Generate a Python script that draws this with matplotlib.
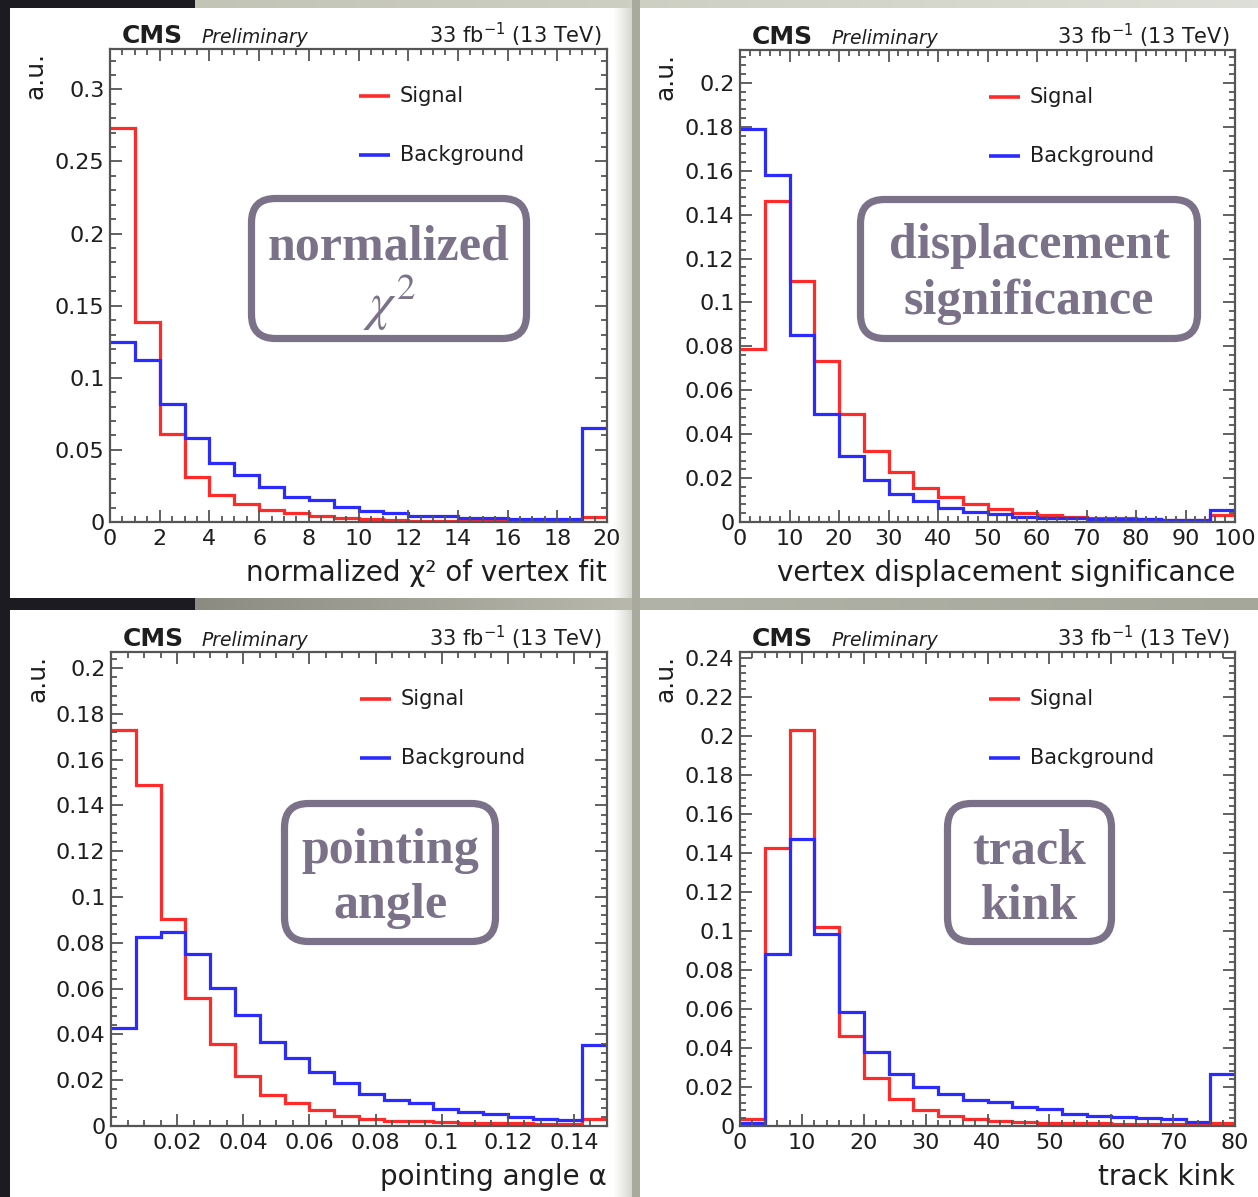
import numpy as np
import matplotlib
matplotlib.use("Agg")
import matplotlib.pyplot as plt
from matplotlib import transforms as mtransforms
from matplotlib.patches import Rectangle, FancyBboxPatch
from matplotlib.lines import Line2D
from matplotlib.ticker import MultipleLocator, AutoMinorLocator, FuncFormatter
from matplotlib.colors import LinearSegmentedColormap

# ---------------- normalized histograms (a.u.), 20 bins each ----------------
chi2_range = (0.0, 20.0)
chi2_signal = [0.273, 0.139, 0.061, 0.031, 0.0186, 0.0124, 0.0083, 0.0060, 0.0041, 0.0025,
               0.0018, 0.0014, 0.0010, 0.0008, 0.0007, 0.0006, 0.0005, 0.0005, 0.0004, 0.0035]
chi2_background = [0.125, 0.1124, 0.0816, 0.058, 0.041, 0.0324, 0.024, 0.0172, 0.015, 0.0103,
                   0.0076, 0.0060, 0.0041, 0.0041, 0.0028, 0.0028, 0.0019, 0.0019, 0.0019, 0.0655]

disp_range = (0.0, 100.0)
disp_signal = [0.079, 0.146, 0.110, 0.0735, 0.0493, 0.0323, 0.0227, 0.0153, 0.0115, 0.0082,
               0.0058, 0.0043, 0.0030, 0.0024, 0.0019, 0.0016, 0.0013, 0.0010, 0.0008, 0.0030]
disp_background = [0.179, 0.158, 0.0853, 0.049, 0.030, 0.019, 0.0129, 0.0095, 0.0065, 0.0047,
                   0.0035, 0.0023, 0.0020, 0.0018, 0.0015, 0.0013, 0.0012, 0.0010, 0.0010, 0.0053]

angle_range = (0.0, 0.15)
angle_signal = [0.173, 0.149, 0.0903, 0.0558, 0.0357, 0.022, 0.0135, 0.0099, 0.0070, 0.0045,
                0.0030, 0.0023, 0.0020, 0.0018, 0.0015, 0.0013, 0.0012, 0.0010, 0.0010, 0.0032]
angle_background = [0.0429, 0.0824, 0.0849, 0.0751, 0.0601, 0.0485, 0.0368, 0.0298, 0.0237, 0.0186,
                    0.0140, 0.0114, 0.0099, 0.0074, 0.0063, 0.0051, 0.0041, 0.0032, 0.0026, 0.0354]

kink_range = (0.0, 80.0)
kink_signal = [0.0034, 0.1424, 0.203, 0.102, 0.0463, 0.0245, 0.0138, 0.0082, 0.0051, 0.0034,
               0.0026, 0.0020, 0.0016, 0.0014, 0.0013, 0.0012, 0.0011, 0.0010, 0.0010, 0.0014]
kink_background = [0.0015, 0.0882, 0.147, 0.0985, 0.0583, 0.0381, 0.0267, 0.0202, 0.0162, 0.0133,
                   0.0121, 0.0099, 0.0085, 0.0062, 0.0053, 0.0048, 0.0040, 0.0034, 0.0022, 0.0267]

series_labels = ["Signal", "Background"]
x_titles = ["normalized \u03c7\u00b2 of vertex fit", "vertex displacement significance",
            "pointing angle \u03b1", "track kink"]
box_titles = [["normalized", r"$\chi^2$"], ["displacement", "significance"],
              ["pointing", "angle"], ["track", "kink"]]
y_title = "a.u."
experiment = "CMS"
status = "Preliminary"
lumi_text = r"33 fb$^{-1}$ (13 TeV)"

# ---------------- canvas ----------------
W, H, DPI = 1258, 1197, 100
fig = plt.figure(figsize=(W / DPI, H / DPI), dpi=DPI)
fig.patch.set_facecolor("#a6a79c")
# pixel coordinates, origin at the top-left corner
PX = mtransforms.Affine2D().scale(1 / DPI, -1 / DPI).translate(0, H / DPI) + fig.dpi_scale_trans

RED = "#ff2b2b"
BLUE = "#2b2bff"
BOXC = "#7b7189"
SANS = "DejaVu Sans"


def frac_rect(x0, y0, x1, y1):
    return [x0 / W, 1 - y1 / H, (x1 - x0) / W, (y1 - y0) / H]


def rect(x0, y0, x1, y1, color, z=-10):
    fig.add_artist(Rectangle((x0, y0), x1 - x0, y1 - y0, transform=PX,
                             facecolor=color, edgecolor="none", zorder=z))


def gradient(x0, y0, x1, y1, c0, c1, z=-20):
    gax = fig.add_axes(frac_rect(x0, y0, x1, y1), zorder=z)
    gax.set_axis_off()
    cmap = LinearSegmentedColormap.from_list("ramp", [c0, c1])
    gax.imshow(np.linspace(0, 1, 256)[None, :], cmap=cmap, aspect="auto",
               interpolation="bilinear", extent=(0, 1, 0, 1))
    gax.set_xlim(0, 1)
    gax.set_ylim(0, 1)


# backdrop
rect(0, 0, 10, H, "#1d1b22")
rect(0, 0, 195, 8, "#1d1b22")
rect(0, 598, 195, 610, "#1d1b22")
gradient(195, 0, W, 8, "#c2c4b6", "#dedfd6")
gradient(195, 598, 632, 610, "#8b8b81", "#b8b8ad")
gradient(640, 598, W, 610, "#b2b3a8", "#a6a79b")
rect(632, 0, 640, H, "#a9aa9e", z=-11)

# white sheets
for (x0, y0, x1, y1) in [(10, 8, 632, 598), (640, 8, W, 598),
                         (10, 610, 632, H), (640, 610, W, H)]:
    rect(x0, y0, x1, y1, "white")
gradient(614, 8, 632, 598, "#ffffff", "#d6d6d0", z=-9)
gradient(614, 610, 632, H, "#ffffff", "#d6d6d0", z=-9)


def fmt(v, pos):
    return "%g" % round(v, 6)


panels = [
    dict(area=(110, 49, 607, 522), rng=chi2_range, sig=chi2_signal, bkg=chi2_background,
         ymax=0.328, xmaj=2, xmin=4, ymaj=0.05, ymin=5,
         box=(248, 195, 530, 342), cx=389, lines=[259, 303]),
    dict(area=(740, 50, 1235, 522), rng=disp_range, sig=disp_signal, bkg=disp_background,
         ymax=0.215, xmaj=10, xmin=5, ymaj=0.02, ymin=5,
         box=(857, 196, 1201, 342), cx=1029, lines=[258, 314]),
    dict(area=(111, 652, 607, 1126), rng=angle_range, sig=angle_signal, bkg=angle_background,
         ymax=0.207, xmaj=0.02, xmin=4, ymaj=0.02, ymin=5,
         box=(281, 800, 499, 945), cx=390, lines=[863, 918]),
    dict(area=(740, 652, 1235, 1126), rng=kink_range, sig=kink_signal, bkg=kink_background,
         ymax=0.243, xmaj=10, xmin=5, ymaj=0.02, ymin=5,
         box=(944, 800, 1115, 945), cx=1029, lines=[863, 919]),
]

for i, p in enumerate(panels):
    x0, y0, x1, y1 = p["area"]
    ax = fig.add_axes(frac_rect(x0, y0, x1, y1))
    ax.set_facecolor("white")
    edges = np.linspace(p["rng"][0], p["rng"][1], len(p["sig"]) + 1)
    ax.stairs(p["sig"], edges, baseline=None, color=RED, lw=2.3)
    ax.stairs(p["bkg"], edges, baseline=None, color=BLUE, lw=2.3)
    ax.set_xlim(*p["rng"])
    ax.set_ylim(0, p["ymax"])

    ax.xaxis.set_major_locator(MultipleLocator(p["xmaj"]))
    ax.xaxis.set_minor_locator(AutoMinorLocator(p["xmin"]))
    ax.yaxis.set_major_locator(MultipleLocator(p["ymaj"]))
    ax.yaxis.set_minor_locator(AutoMinorLocator(p["ymin"]))
    ax.xaxis.set_major_formatter(FuncFormatter(fmt))
    ax.yaxis.set_major_formatter(FuncFormatter(fmt))
    ax.tick_params(which="both", direction="in", top=True, right=True,
                   color="#555555", width=1.3, labelsize=16, labelcolor="#1e1e1e")
    ax.tick_params(which="major", length=8.5)
    ax.tick_params(which="minor", length=4)
    ax.tick_params(axis="y", pad=4)
    ax.tick_params(axis="x", pad=5)
    for lab in ax.get_xticklabels() + ax.get_yticklabels():
        lab.set_family(SANS)
    for s in ax.spines.values():
        s.set_color("#555555")
        s.set_linewidth(1.6)

    # header
    fig.text(x0 + 12, y0 - 6, experiment, transform=PX, fontsize=18, fontweight="bold",
             family=SANS, color="#1e1e1e", va="baseline", ha="left")
    fig.text(x0 + 91, y0 - 6, status, transform=PX, fontsize=13.5, style="italic",
             family=SANS, color="#1e1e1e", va="baseline", ha="left")
    fig.text(x1 - 6, y0 - 6, lumi_text, transform=PX, fontsize=15,
             family=SANS, color="#1e1e1e", va="baseline", ha="right")

    # axis titles
    fig.text(x0 - 74, y0 + 3, y_title, transform=PX, fontsize=18, rotation=90,
             family=SANS, color="#1e1e1e", va="top", ha="center")
    fig.text(x1, y1 + 59, x_titles[i], transform=PX, fontsize=20,
             family=SANS, color="#1e1e1e", va="baseline", ha="right")

    # legend
    for k, (lab, col) in enumerate(zip(series_labels, [RED, BLUE])):
        ly = y0 + 47 + 59 * k
        fig.add_artist(Line2D([x0 + 249, x0 + 280], [ly, ly], transform=PX,
                              color=col, lw=2.6, solid_capstyle="butt"))
        fig.text(x0 + 290, ly, lab, transform=PX, fontsize=15, family=SANS,
                 color="#1e1e1e", va="center", ha="left")

    # variable tag
    bx0, by0, bx1, by1 = p["box"]
    fig.add_artist(FancyBboxPatch((bx0 + 3.5, by0 + 3.5), bx1 - bx0 - 7, by1 - by0 - 7,
                                  boxstyle="round,pad=0,rounding_size=24", transform=PX,
                                  facecolor="white", edgecolor=BOXC, lw=5.2, zorder=3))
    for line, yb in zip(box_titles[i], p["lines"]):
        if line.startswith("$"):
            fig.text(p["cx"], yb, line, transform=PX, fontsize=38, color=BOXC,
                     math_fontfamily="stix", va="center", ha="center", zorder=4)
        else:
            fig.text(p["cx"], yb, line, transform=PX, fontsize=36, color=BOXC,
                     family="Liberation Serif", fontweight="bold",
                     va="baseline", ha="center", zorder=4)

fig.savefig("out.png", dpi=DPI, facecolor=fig.get_facecolor())
